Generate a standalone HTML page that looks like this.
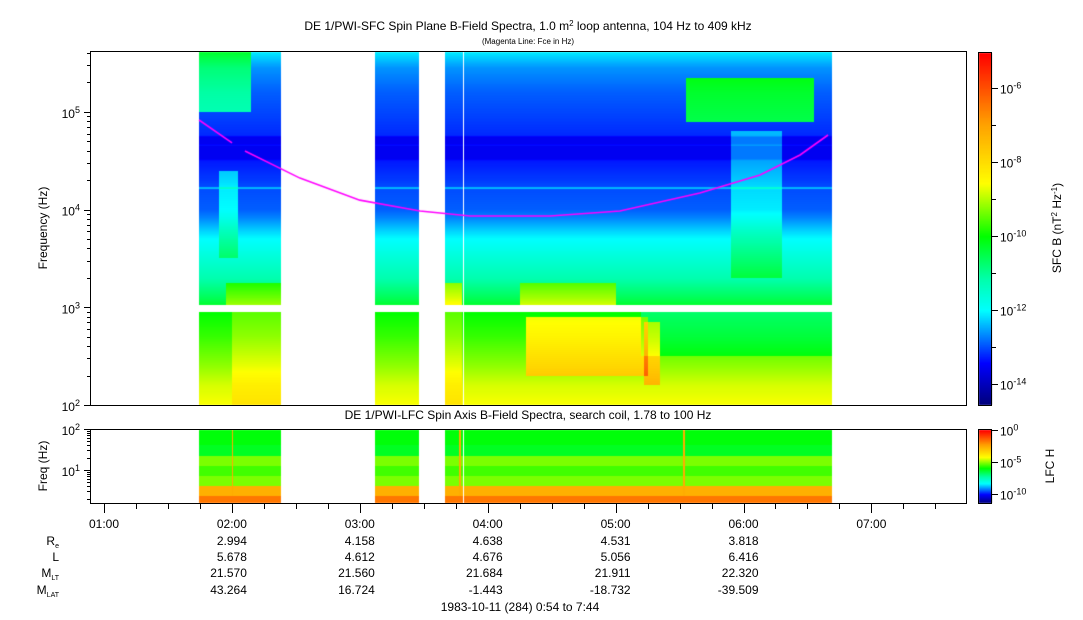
<!DOCTYPE html>
<html><head><meta charset="utf-8"><style>
body{margin:0;background:#fff;width:1083px;height:620px;overflow:hidden;position:relative;font-family:"Liberation Sans",sans-serif}
canvas{position:absolute;left:0;top:0}
svg{position:absolute;left:0;top:0}
</style></head><body>
<canvas id="cv" width="1083" height="620"></canvas>
<svg id="sv" width="1083" height="620" font-family="Liberation Sans, sans-serif" font-size="12" fill="#000">
<text x="528" y="30" text-anchor="middle">DE 1/PWI-SFC  Spin Plane B-Field Spectra, 1.0 m<tspan font-size="8" dy="-4">2</tspan><tspan dy="4"> loop antenna, 104 Hz to 409 kHz</tspan></text>
<text x="528" y="44" text-anchor="middle" font-size="8">(Magenta Line: Fce in Hz)</text>
<text x="528" y="419" text-anchor="middle">DE 1/PWI-LFC  Spin Axis B-Field Spectra, search coil, 1.78 to 100 Hz</text>
<text transform="translate(47,228) rotate(-90)" text-anchor="middle">Frequency (Hz)</text>
<text transform="translate(47,466) rotate(-90)" text-anchor="middle">Freq (Hz)</text>
<text transform="translate(1061,228) rotate(-90)" text-anchor="middle">SFC B (nT<tspan font-size="8" dy="-4">2</tspan><tspan dy="4"> Hz</tspan><tspan font-size="8" dy="-4">-1</tspan><tspan dy="4">)</tspan></text>
<text transform="translate(1054,466) rotate(-90)" text-anchor="middle">LFC H</text>
<text x="520" y="611" text-anchor="middle">1983-10-11 (284) 0:54 to 7:44</text>
<g id="axes"></g>
</svg>
<script>
// ---- data ----
const segStart=[1.743,3.119,3.666];
const segEnd=[2.384,3.463,6.692];
const whiteLines=[3.807];
const profLogF=[5.61,5.45,5.2,4.9,4.76,4.74,4.67,4.66,4.65,4.52,4.50,4.30,4.235,4.221,4.205,4.0,3.92,3.80,3.7,3.5,3.3,3.1,3.02,2.95,2.7,2.4,2.2,2.0];
const profPow=[-12.1,-12.6,-12.9,-13.1,-13.2,-13.55,-13.55,-13.25,-13.55,-13.55,-13.3,-13.1,-13.0,-12.1,-13.0,-12.9,-12.7,-12.3,-12.0,-11.6,-11.2,-10.6,-10.3,-10.0,-9.7,-9.2,-8.8,-8.6];
const patchT0=[1.743,1.9,1.95,2.0,4.25,4.3,5.22,5.55,5.9,3.666,5.2,3.666];
const patchT1=[2.15,2.05,2.384,2.384,5.0,5.25,5.35,6.55,6.3,3.8,6.692,3.8];
const patchF0=[5.0,3.5,3.0,2.0,3.0,2.3,2.2,4.9,3.3,3.0,2.5,2.0];
const patchF1=[5.61,4.4,3.25,2.95,3.25,2.9,2.85,5.35,4.8,3.25,2.95,2.95];
const patchDv=[1.8,0.9,1.2,0.5,1.5,1.3,1.5,2.6,0.8,1.8,-0.7,0.5];
const fceTime=[1.743,2.001,2.102,2.532,3.0,3.471,3.862,4.487,5.034,5.659,6.129,6.442,6.661];
const fceHz=[82600,48100,39800,21000,12500,9680,8600,8600,9680,14800,22600,36200,58000];
const lfcBandTop=[2.0,1.61,1.34,1.10,0.85,0.61,0.37];
const lfcBandBot=[1.61,1.34,1.10,0.85,0.61,0.37,0.20];
const lfcPow=[-6.0,-6.2,-5.1,-5.5,-5.1,-2.6,-1.7];
const lfcSpikes=[2.0,3.78,5.53];
const timeLabels=["01:00","02:00","03:00","04:00","05:00","06:00","07:00"];
const reVals=["2.994","4.158","4.638","4.531","3.818"];
const lVals=["5.678","4.612","4.676","5.056","6.416"];
const mltVals=["21.570","21.560","21.684","21.911","22.320"];
const mlatVals=["43.264","16.724","-1.443","-18.732","-39.509"];

// ---- geometry ----
const X0=90,X1=966,TPX=127.9;
const xOf=t=>104+(t-1)*TPX, tOf=x=>(x-104)/TPX+1;
const TY0=51,TY1=405, yOfF=lf=>405-(lf-2)*97.7, lfOfY=y=>2+(405-y)/97.7;
const BY0=429,BY1=503, yOfB=lf=>429+(2-lf)*41;
const stops=[[0,0,0,120],[0.12,0,0,255],[0.27,0,255,255],[0.36,0,255,170],[0.48,0,255,0],[0.63,255,255,0],[0.8,255,160,0],[1,255,0,0]];
function cmap(f){f=Math.max(0,Math.min(1,f));for(let i=1;i<stops.length;i++){if(f<=stops[i][0]){const a=stops[i-1],b=stops[i],u=(f-a[0])/(b[0]-a[0]);return [a[1]+u*(b[1]-a[1]),a[2]+u*(b[2]-a[2]),a[3]+u*(b[3]-a[3])];}}return [255,0,0];}
function interp(xs,ys,x){for(let i=1;i<xs.length;i++){if(x>=xs[i]){const u=(x-xs[i-1])/(xs[i]-xs[i-1]);return ys[i-1]+u*(ys[i]-ys[i-1]);}}return ys[ys.length-1];}
const cv=document.getElementById('cv'),ctx=cv.getContext('2d');
const img=ctx.createImageData(1083,620),D=img.data;
function put(x,y,c){const k=(y*1083+x)*4;D[k]=c[0];D[k+1]=c[1];D[k+2]=c[2];D[k+3]=255;}
function inSeg(t){for(let i=0;i<segStart.length;i++)if(t>=segStart[i]&&t<segEnd[i])return true;return false;}
for(let x=X0+1;x<X1;x++){
  const t=tOf(x+0.5); if(!inSeg(t))continue;
  if(whiteLines.some(w=>Math.abs(xOf(w)-x)<0.8))continue;
  for(let y=TY0+1;y<TY1;y++){
    const lf=lfOfY(y+0.5); if(lf>2.952&&lf<3.02)continue;
    let v=interp(profLogF,profPow,lf);
    for(let p=0;p<patchT0.length;p++){if(t>=patchT0[p]&&t<patchT1[p]&&lf>=patchF0[p]&&lf<patchF1[p])v+=patchDv[p];}
    put(x,y,cmap((v+14.57)/9.52));
  }
  const spike=lfcSpikes.some(s=>Math.abs(xOf(s)-x)<0.8);
  for(let y=BY0+1;y<BY1;y++){
    const lf=2-(y+0.5-429)/41;let v=lfcPow[lfcPow.length-1];
    for(let b=0;b<lfcBandTop.length;b++)if(lf<=lfcBandTop[b]&&lf>lfcBandBot[b])v=lfcPow[b];
    if(spike)v=Math.max(v,-2.5);
    put(x,y,cmap((v+11.4)/11.4));
  }
}
for(let y=53;y<405;y++){const v=-5.05-(y-53)/37;const c=cmap((v+14.57)/9.52);for(let x=979;x<992;x++)put(x,y,c);}
for(let y=430;y<503;y++){const v=-(y-430)/6.4;const c=cmap((v+11.4)/11.4);for(let x=979;x<992;x++)put(x,y,c);}
ctx.putImageData(img,0,0);
ctx.strokeStyle='#ff00ff';ctx.lineWidth=1.6;ctx.beginPath();
fceTime.forEach((t,i)=>{const x=xOf(t),y=yOfF(Math.log10(fceHz[i]));if(i==0||i==2)ctx.moveTo(x,y);else ctx.lineTo(x,y);});
ctx.stroke();

// ---- axes (SVG) ----
const NS='http://www.w3.org/2000/svg',G=document.getElementById('axes');
function el(tag,at){const e=document.createElementNS(NS,tag);for(const k in at)e.setAttribute(k,at[k]);G.appendChild(e);return e;}
function ln(x1,y1,x2,y2){return el('line',{x1,y1,x2,y2,stroke:'#000','stroke-width':1});}
function pw(x,y,base,exp,anchor,name){const t=el('text',{x,y,'text-anchor':anchor});t.innerHTML=base+'<tspan font-size="9" dy="-5">'+exp+'</tspan>';

return t;}
let r=el('rect',{x:X0+0.5,y:TY0+0.5,width:X1-X0,height:TY1-TY0,fill:'none',stroke:'#000'});


r=el('rect',{x:X0+0.5,y:BY0+0.5,width:X1-X0,height:BY1-BY0,fill:'none',stroke:'#000'});


r=el('rect',{x:978.5,y:52.5,width:13,height:353,fill:'none',stroke:'#000'});


r=el('rect',{x:978.5,y:429.5,width:13,height:74,fill:'none',stroke:'#000'});


for(let d=2;d<=5;d++){for(let m=1;m<10;m++){const lf=d+Math.log10(m);if(lf>5.612)break;const y=Math.round(yOfF(lf))+0.5;ln(m==1?84:87,y,X0,y);}
  pw(80,yOfF(d)+6,'10',d,'end','y-tick-label');}
for(let d=0;d<=2;d++){for(let m=1;m<10;m++){const lf=d+Math.log10(m);if(lf<0.25||lf>2.001)continue;const y=Math.round(yOfB(lf))+0.5;ln(m==1?84:87,y,X0,y);}
  if(d>=1)pw(80,yOfB(d)+6,'10',d,'end','lfc-y-tick-label');}
for(let e=6;e<=14;e++){const y=Math.round(88+(e-6)*37)+0.5;ln(992,y,e%2==0?998:996,y);if(e%2==0)pw(1000,y+5,'10','-'+e,'start','colorbar-tick-label');}
[0,5,10].forEach((e,i)=>{const y=430+e*6.4+0.5;ln(992,y,998,y);pw(1000,y+5,'10',e?'-'+e:'0','start','lfc-colorbar-tick-label');});
for(let m=0;m<=27;m++){const t=1+m*0.25;const x=Math.round(xOf(t))+0.5;if(x>X1)break;ln(x,BY1,x,m%4==0?513:509);}
timeLabels.forEach((s,i)=>{const t=el('text',{x:xOf(1+i),y:528,'text-anchor':'middle'});t.textContent=s;

});
const rows=[[reVals,545,'R','e'],[lVals,561,'L',''],[mltVals,577,'M','LT'],[mlatVals,594,'M','LAT']];
rows.forEach(([vals,y,a,b])=>{const t=el('text',{x:59,y,'text-anchor':'end'});t.innerHTML=a+(b?'<tspan font-size="7" dy="3">'+b+'</tspan>':'');


vals.forEach((v,i)=>{const tt=el('text',{x:xOf(2+i)+15,y,'text-anchor':'end'});tt.textContent=v;

});});
</script>
</body></html>
